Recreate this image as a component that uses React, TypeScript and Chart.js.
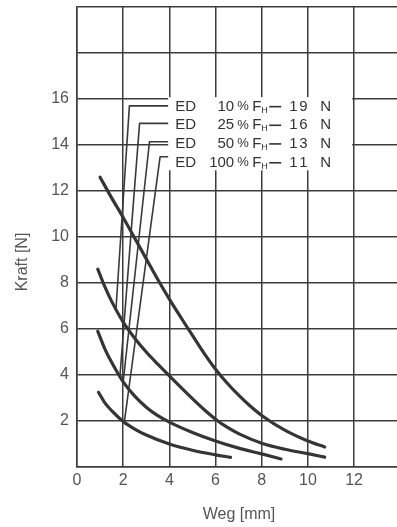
import React, { useEffect, useRef } from 'react';
import { Chart, registerables } from 'chart.js';

Chart.register(...registerables);

// ---- data ----
const xTicks = [0, 2, 4, 6, 8, 10, 12];
const yTicks = [0, 2, 4, 6, 8, 10, 12, 14, 16, 18, 20];
const yLabeled = [2, 4, 6, 8, 10, 12, 14, 16];
const xMax = 13.86;
const yMax = 20;

const curve10X = [1, 1.5, 2, 2.5, 3, 3.5, 4, 4.5, 5, 5.5, 6, 6.5, 7, 7.5, 8, 9, 10, 10.73];
const curve10Y = [12.6, 11.7, 10.85, 9.95, 9.05, 8.15, 7.3, 6.5, 5.72, 4.95, 4.25, 3.65, 3.12, 2.65, 2.24, 1.6, 1.13, 0.87];

const curve25X = [0.9, 1.2, 1.5, 2, 2.5, 3, 3.5, 4, 4.5, 5, 5.5, 6, 6.5, 7, 8, 9, 10, 10.73];
const curve25Y = [8.6, 7.85, 7.2, 6.3, 5.6, 5.0, 4.47, 3.96, 3.46, 2.97, 2.5, 2.08, 1.73, 1.45, 1.03, 0.77, 0.58, 0.43];

const curve50X = [0.9, 1.2, 1.5, 2, 2.5, 3, 3.5, 4, 5, 6, 7, 8, 8.84];
const curve50Y = [5.9, 5.15, 4.55, 3.7, 3.08, 2.6, 2.23, 1.95, 1.5, 1.13, 0.82, 0.57, 0.35];

const curve100X = [0.93, 1.2, 1.5, 2, 2.5, 3, 4, 5, 6, 6.65];
const curve100Y = [3.25, 2.8, 2.45, 1.98, 1.65, 1.39, 1.0, 0.73, 0.53, 0.42];

// leader lines (data units): end on curve -> corner -> label
const leader1X = [1.69, 2.27, 3.95];
const leader1Y = [6.9, 15.7, 15.7];
const leader2X = [1.86, 2.71, 3.95];
const leader2Y = [3.95, 14.94, 14.94];
const leader3X = [2.0, 3.14, 3.95];
const leader3Y = [3.7, 14.14, 14.14];
const leader4X = [2.05, 3.6, 3.95];
const leader4Y = [1.95, 13.49, 13.49];

const labelPct = ['10', '25', '50', '100'];
const labelForce = ['19', '16', '13', '11'];
const labelRowY = [15.68, 14.87, 14.06, 13.24];
const labelBoxX = [3.95, 11.92];
const labelBoxY = [16.08, 12.9];

const xTitle = 'Weg [mm]';
const yTitle = 'Kraft [N]';

const FONT = "'Liberation Sans', Arial, sans-serif";

const pts = (xs: number[], ys: number[]) => xs.map((x, i) => ({ x, y: ys[i] }));

const curveStyle = {
  borderColor: '#353535',
  borderWidth: 3.2,
  pointRadius: 0,
  cubicInterpolationMode: 'monotone' as const,
  borderCapStyle: 'round' as const,
  fill: false,
};
const leaderStyle = {
  borderColor: '#3a3a3a',
  borderWidth: 1.6,
  pointRadius: 0,
  tension: 0,
  fill: false,
  borderJoinStyle: 'round' as const,
};

const annotPlugin = {
  id: 'annot',
  beforeDatasetsDraw(chart: any) {
    const { ctx, scales } = chart;
    const xs = scales.x;
    const ys = scales.y;
    const x0 = xs.getPixelForValue(labelBoxX[0]);
    const x1 = xs.getPixelForValue(labelBoxX[1]);
    const y0 = ys.getPixelForValue(labelBoxY[0]);
    const y1 = ys.getPixelForValue(labelBoxY[1]);
    ctx.save();
    ctx.fillStyle = '#ffffff';
    ctx.fillRect(x0, y0, x1 - x0, y1 - y0);
    ctx.restore();
  },
  afterDatasetsDraw(chart: any) {
    const { ctx, scales } = chart;
    const xs = scales.x;
    const ys = scales.y;
    const ax = xs.getPixelForValue(labelBoxX[0]);
    ctx.save();
    ctx.fillStyle = '#333333';
    ctx.textBaseline = 'middle';
    labelRowY.forEach((yv, i) => {
      const y = ys.getPixelForValue(yv);
      ctx.font = `15px ${FONT}`;
      ctx.textAlign = 'left';
      ctx.fillText('ED', ax + 7, y);
      ctx.textAlign = 'right';
      ctx.fillText(labelPct[i], ax + 66, y);
      ctx.textAlign = 'left';
      ctx.font = `13px ${FONT}`;
      ctx.fillText('%', ax + 69, y);
      ctx.font = `15px ${FONT}`;
      ctx.fillText('F', ax + 84, y);
      ctx.font = `9px ${FONT}`;
      ctx.fillText('H', ax + 93, y + 4);
      ctx.fillRect(ax + 101, y - 0.5, 12, 1.6);
      ctx.font = `15px ${FONT}`;
      ctx.fillText(labelForce[i][0], ax + 121, y);
      ctx.fillText(labelForce[i][1], ax + 131, y);
      ctx.fillText('N', ax + 152, y);
    });
    // axis titles
    ctx.fillStyle = '#555555';
    ctx.font = `16px ${FONT}`;
    ctx.textAlign = 'center';
    ctx.textBaseline = 'middle';
    ctx.fillText(xTitle, 239, 515);
    ctx.translate(23, 262);
    ctx.rotate(-Math.PI / 2);
    ctx.fillText(yTitle, 0, 0);
    ctx.restore();
  },
};

export default function App() {
  const ref = useRef<HTMLCanvasElement | null>(null);
  useEffect(() => {
    if (!ref.current) return;
    const chart = new Chart(ref.current, {
      type: 'line',
      data: {
        datasets: [
          { data: pts(curve10X, curve10Y), ...curveStyle },
          { data: pts(curve25X, curve25Y), ...curveStyle },
          { data: pts(curve50X, curve50Y), ...curveStyle },
          { data: pts(curve100X, curve100Y), ...curveStyle },
          { data: pts(leader1X, leader1Y), ...leaderStyle },
          { data: pts(leader2X, leader2Y), ...leaderStyle },
          { data: pts(leader3X, leader3Y), ...leaderStyle },
          { data: pts(leader4X, leader4Y), ...leaderStyle },
        ] as any,
      },
      options: {
        animation: false,
        responsive: false,
        devicePixelRatio: 1,
        layout: { padding: { top: 7, left: 0, right: 0, bottom: 0 } },
        plugins: { legend: { display: false }, tooltip: { enabled: false } },
        events: [],
        scales: {
          x: {
            type: 'linear',
            min: 0,
            max: xMax,
            afterBuildTicks: (s: any) => {
              s.ticks = xTicks.map((v) => ({ value: v }));
            },
            afterFit: (s: any) => {
              s.height = 60;
              s.paddingLeft = 0;
              s.paddingRight = 0;
              s.paddingTop = 0;
              s.paddingBottom = 0;
            },
            ticks: {
              color: '#555555',
              font: { size: 16, family: FONT },
              padding: 4,
              maxRotation: 0,
              autoSkip: false,
              callback: (v: any) => String(v),
            },
            grid: { color: '#3c3c3c', lineWidth: 1.5, drawTicks: false },
            border: { color: '#3c3c3c', width: 1.5 },
          },
          y: {
            type: 'linear',
            min: 0,
            max: yMax,
            afterBuildTicks: (s: any) => {
              s.ticks = yTicks.map((v) => ({ value: v }));
            },
            afterFit: (s: any) => {
              s.width = 77;
              s.paddingLeft = 0;
              s.paddingRight = 0;
              s.paddingTop = 0;
              s.paddingBottom = 0;
            },
            ticks: {
              color: '#555555',
              font: { size: 16, family: FONT },
              padding: 8,
              autoSkip: false,
              callback: (v: any) => (yLabeled.includes(Number(v)) ? String(v) : ''),
            },
            grid: { color: '#3c3c3c', lineWidth: 1.5, drawTicks: false },
            border: { color: '#3c3c3c', width: 1.5 },
          },
        },
      } as any,
      plugins: [annotPlugin],
    });
    return () => chart.destroy();
  }, []);
  return (
    <div style={{ position: 'absolute', left: 0, top: 0, width: 397, height: 527, background: '#fff' }}>
      <canvas ref={ref} width={397} height={527} />
    </div>
  );
}
